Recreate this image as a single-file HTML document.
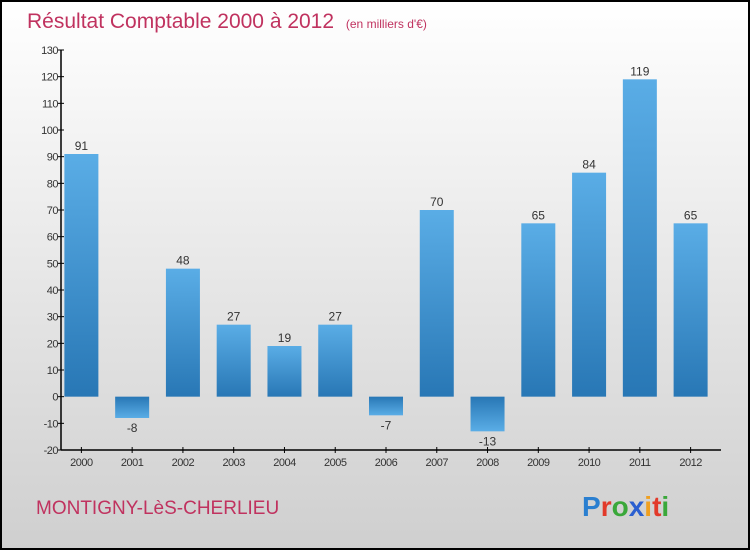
<!DOCTYPE html>
<html><head><meta charset="utf-8"><style>
html,body{margin:0;padding:0}
body{width:750px;height:550px;overflow:hidden;font-family:"Liberation Sans",sans-serif}
</style></head><body>
<svg width="750" height="550" xmlns="http://www.w3.org/2000/svg">
<defs>
<linearGradient id="bg" x1="0" y1="0" x2="0" y2="1"><stop offset="0" stop-color="#ffffff"/><stop offset="1" stop-color="#cfcfcf"/></linearGradient>
<linearGradient id="pos" x1="0" y1="0" x2="0" y2="1"><stop offset="0" stop-color="#5aade6"/><stop offset="1" stop-color="#2877b5"/></linearGradient>
<linearGradient id="neg" x1="0" y1="0" x2="0" y2="1"><stop offset="0" stop-color="#2877b5"/><stop offset="1" stop-color="#5aade6"/></linearGradient>
</defs>
<rect x="1" y="1" width="748" height="548" fill="url(#bg)" stroke="#000" stroke-width="2"/>
<text x="27" y="28" font-size="21" fill="#c0325f">Résultat Comptable 2000 à 2012 <tspan font-size="12" dx="6">(en milliers d'€)</tspan></text>
<g id="plot"></g>
<text x="36" y="514" font-size="19" fill="#c0325f">MONTIGNY-LèS-CHERLIEU</text>
<text x="582" y="516" font-size="28" font-weight="bold"><tspan fill="#2a7fd0">P</tspan><tspan fill="#e23a2a">r</tspan><tspan fill="#3aa83a">o</tspan><tspan fill="#2a5fd0">x</tspan><tspan fill="#f0a020">i</tspan><tspan fill="#e23a2a">t</tspan><tspan fill="#3aa83a">i</tspan></text>
</svg>
<script>
const categories=["2000","2001","2002","2003","2004","2005","2006","2007","2008","2009","2010","2011","2012"];
const values=[91,-8,48,27,19,27,-7,70,-13,65,84,119,65];
const yTicks=[-20,-10,0,10,20,30,40,50,60,70,80,90,100,110,120,130];
const NS="http://www.w3.org/2000/svg";
const g=document.getElementById('plot');
const x0=61,x1=721,yMin=-20,yMax=130,yTop=50,yBot=450;
const y=v=>yBot-(v-yMin)/(yMax-yMin)*(yBot-yTop);
const step=(x1-x0)/categories.length;
const xc=i=>x0+step*(i+0.5)-5;
function el(t,a,txt){const e=document.createElementNS(NS,t);for(const k in a)e.setAttribute(k,a[k]);if(txt!==undefined)e.textContent=txt;g.appendChild(e);return e;}
let ax=el('line',{x1:x0,y1:yTop,x2:x0,y2:yBot,stroke:'#000','stroke-width':1.5});


let bx=el('line',{x1:x0,y1:yBot,x2:x1,y2:yBot,stroke:'#000','stroke-width':1.5});


yTicks.forEach(t=>{
 let l=el('line',{x1:x0-3,y1:y(t),x2:x0+3,y2:y(t),stroke:'#000'});
 
 
 let tx=el('text',{x:x0-3,y:y(t)+4,'text-anchor':'end','font-size':11,fill:'#333','letter-spacing':'-0.5'},t);
 
 
});
categories.forEach((c,i)=>{
 const v=values[i],cx=xc(i),w=34;
 const top=v>=0?y(v):y(0),h=Math.abs(y(v)-y(0));
 let r=el('rect',{x:cx-w/2,y:top,width:w,height:h,fill:v>=0?'url(#pos)':'url(#neg)'});
 
 
 let vl=el('text',{x:cx,y:v>=0?y(v)-4:y(v)+14,'text-anchor':'middle','font-size':12,fill:'#333'},String(v));
 
 
 let tk=el('line',{x1:cx,y1:yBot-3,x2:cx,y2:yBot+3,stroke:'#000'});
 
 
 let xl=el('text',{x:cx,y:yBot+16,'text-anchor':'middle','font-size':11,fill:'#333','letter-spacing':'-0.5'},c);
 
 
});
</script>
</body></html>
